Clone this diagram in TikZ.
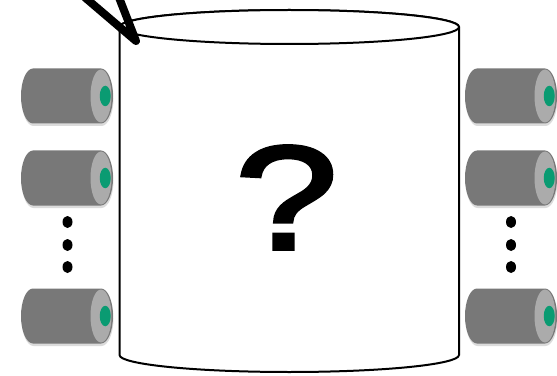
\documentclass[tikz,border=0pt]{standalone}
\usepackage{fontspec}
\setmainfont{Liberation Sans}
\newfontfamily\askfont[FakeBold=2.5]{Liberation Sans}
\usepackage{tikz}
\usetikzlibrary{shadows}

\definecolor{rollgray}{gray}{0.47}
\definecolor{rollend}{gray}{0.67}
\definecolor{rollgreen}{HTML}{0A9B72}

\tikzset{
  softshadow/.style={drop shadow={shadow xshift=0.01cm,shadow yshift=-0.05cm,opacity=0.14,fill=black}},
  tank/.style={draw=black,line width=0.04cm,fill=white},
  roller/.pic={
    % body
    \path[fill=rollgray,softshadow] (-0.68,0.55) -- (0.68,0.55) arc (90:-90:0.24 and 0.55) -- (-0.68,-0.55) arc (270:90:0.24 and 0.55) -- cycle;
    % end face
    \fill[rollend] (0.68,0) ellipse (0.21 and 0.53);
    % hole
    \fill[rollgreen] (0.765,0) ellipse (0.11 and 0.205);
  }
}

\begin{document}
\begin{tikzpicture}[scale=1.0]
\useasboundingbox (0,0) rectangle (11.14,7.5);
% left rollers
\pic at (1.34,5.58) {roller};
\pic at (1.34,3.94) {roller};
\pic at (1.34,1.18) {roller};
% right rollers
\pic at (10.22,5.58) {roller};
\pic at (10.22,3.94) {roller};
\pic at (10.22,1.18) {roller};
% dots
\fill[black] (1.35,3.06) ellipse (0.1 and 0.12);
\fill[black] (1.35,2.6) ellipse (0.1 and 0.12);
\fill[black] (1.35,2.16) ellipse (0.1 and 0.12);
\fill[black] (10.22,3.06) ellipse (0.1 and 0.12);
\fill[black] (10.22,2.6) ellipse (0.1 and 0.12);
\fill[black] (10.22,2.16) ellipse (0.1 and 0.12);
% tank
\draw[tank] (2.39,6.96) -- (2.39,0.4) arc (180:360:3.395 and 0.34) -- (9.18,6.96) arc (0:180:3.395 and 0.34) -- cycle;
\draw[tank] (5.785,6.96) ellipse (3.395 and 0.34);
% question mark
\node[inner sep=0pt] (ask) at (5.73,3.55) {\fontsize{84pt}{84pt}\askfont\scalebox{1.25}[1]{?}};
% pointer
\coordinate (tip) at (2.72,6.68);
\coordinate (endA) at (1.7,7.55);
\coordinate (endB) at (2.38,7.55);
\draw[black,line width=0.16cm,line cap=round,line join=round] (endA) -- (tip) -- (endB);
\end{tikzpicture}
\end{document}
